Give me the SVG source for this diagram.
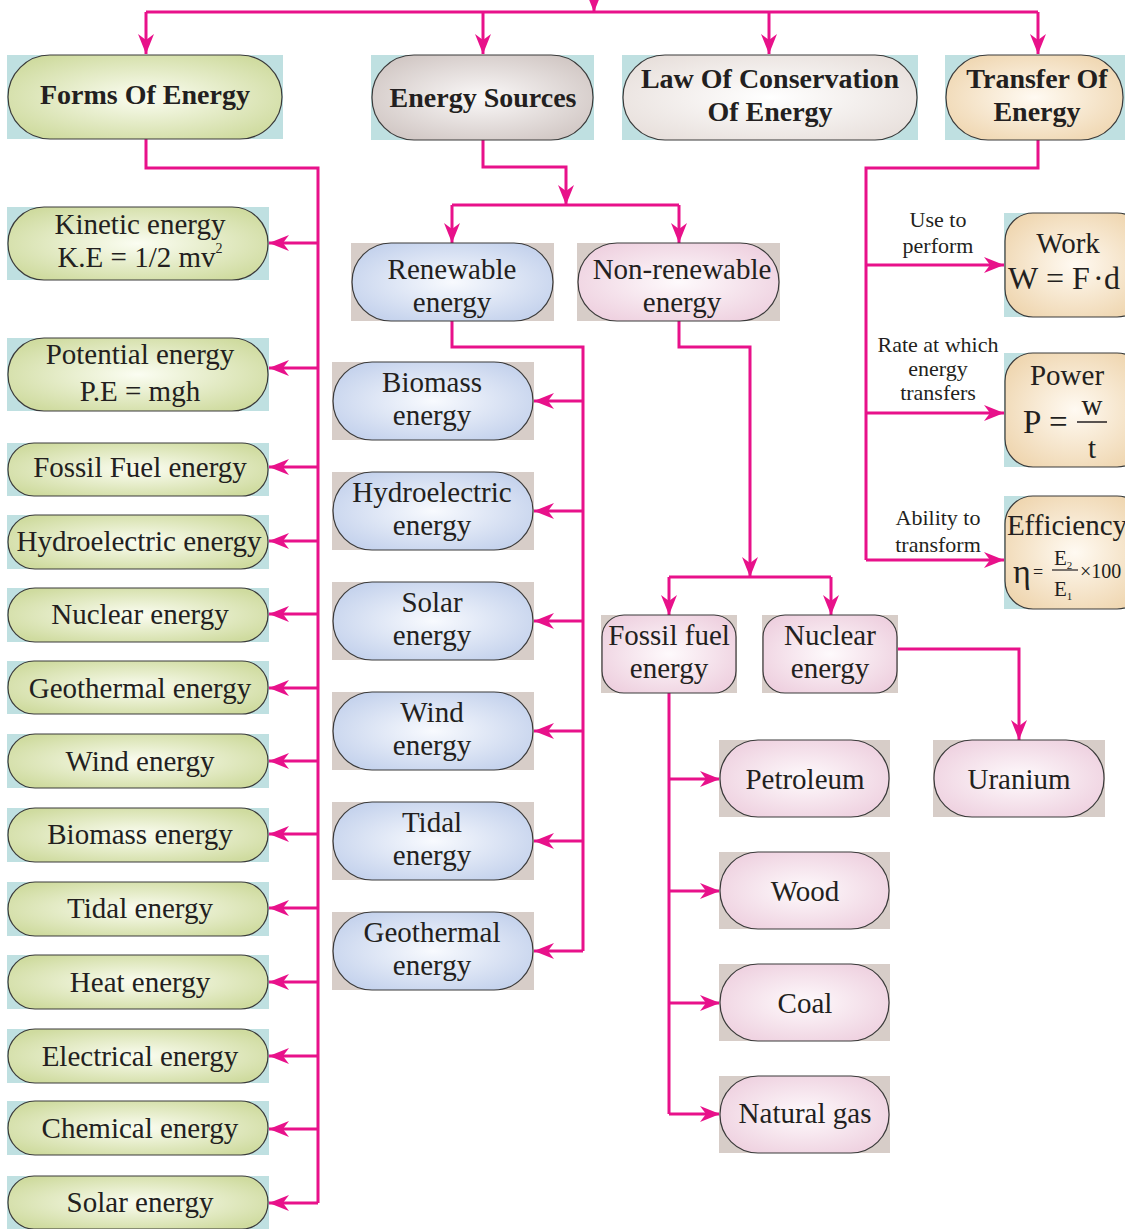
<svg xmlns="http://www.w3.org/2000/svg" width="1125" height="1229" viewBox="0 0 1125 1229">
<defs>
<radialGradient id="gGreen" cx="50%" cy="50%" r="60%"><stop offset="0" stop-color="#fbfdf2"/><stop offset="1" stop-color="#cfdb9f"/></radialGradient>
<radialGradient id="gGrey" cx="50%" cy="50%" r="60%"><stop offset="0" stop-color="#faf8f8"/><stop offset="1" stop-color="#d1c7c4"/></radialGradient>
<radialGradient id="gLaw" cx="50%" cy="50%" r="60%"><stop offset="0" stop-color="#ffffff"/><stop offset="1" stop-color="#e8e0dc"/></radialGradient>
<radialGradient id="gPeach" cx="50%" cy="50%" r="60%"><stop offset="0" stop-color="#fffaf2"/><stop offset="1" stop-color="#efd6b0"/></radialGradient>
<radialGradient id="gBlue" cx="50%" cy="50%" r="60%"><stop offset="0" stop-color="#f8fafe"/><stop offset="1" stop-color="#c3d1ec"/></radialGradient>
<radialGradient id="gPink" cx="50%" cy="50%" r="60%"><stop offset="0" stop-color="#fefafc"/><stop offset="1" stop-color="#eed0df"/></radialGradient>
<marker id="ah" viewBox="0 0 20 16" refX="20" refY="8" markerWidth="20" markerHeight="16" markerUnits="userSpaceOnUse" orient="auto">
<path d="M0,0 L20,8 L0,16 L6,8 Z" fill="#e8118a"/>
</marker>
<style>
.bgb{fill:#bfe0e1}
.bgg{fill:#d7cdc8}
.pill{stroke:#3a3a3a;stroke-width:1.2}
.t{font-family:"Liberation Serif","Times New Roman",serif;font-size:29px;fill:#231f20;text-anchor:middle}
.h{font-family:"Liberation Serif","Times New Roman",serif;font-size:28px;font-weight:bold;fill:#231f20;text-anchor:middle}
.s{font-family:"Liberation Serif","Times New Roman",serif;font-size:22px;fill:#231f20;text-anchor:middle}
.m{font-family:"Liberation Serif","Times New Roman",serif;fill:#231f20;text-anchor:start}
.c{fill:none;stroke:#e8118a;stroke-width:3}
.a{fill:none;stroke:#e8118a;stroke-width:3;marker-end:url(#ah)}
</style>
</defs>
<rect width="1125" height="1229" fill="#ffffff"/>

<g id="connectors">
<path class="a" d="M594,-8 V12"/>
<path class="c" d="M146,12 H1038"/>
<path class="a" d="M146,12 V54"/>
<path class="a" d="M483,12 V54"/>
<path class="a" d="M769,12 V54"/>
<path class="a" d="M1038,12 V54"/>
<path class="c" d="M146,139 V168 H318 V1203"/>
<path class="a" d="M318,243 H269"/>
<path class="a" d="M318,368 H269"/>
<path class="a" d="M318,467 H269"/>
<path class="a" d="M318,541 H269"/>
<path class="a" d="M318,614 H269"/>
<path class="a" d="M318,688 H269"/>
<path class="a" d="M318,761 H269"/>
<path class="a" d="M318,834 H269"/>
<path class="a" d="M318,908 H269"/>
<path class="a" d="M318,982 H269"/>
<path class="a" d="M318,1056 H269"/>
<path class="a" d="M318,1129 H269"/>
<path class="a" d="M318,1203 H269"/>
<path class="a" d="M483,140 V167 H566 V205"/>
<path class="c" d="M452,205 H679"/>
<path class="a" d="M452,205 V243"/>
<path class="a" d="M679,205 V243"/>
<path class="c" d="M452,321 V347 H583 V951"/>
<path class="a" d="M583,401 H534"/>
<path class="a" d="M583,511 H534"/>
<path class="a" d="M583,621 H534"/>
<path class="a" d="M583,731 H534"/>
<path class="a" d="M583,841 H534"/>
<path class="a" d="M583,951 H534"/>
<path class="a" d="M679,321 V347 H750 V577"/>
<path class="c" d="M669,577 H831"/>
<path class="a" d="M669,577 V615"/>
<path class="a" d="M831,577 V615"/>
<path class="a" d="M897,649 H1019 V740"/>
<path class="c" d="M669,693 V1114"/>
<path class="a" d="M669,779 H720"/>
<path class="a" d="M669,891 H720"/>
<path class="a" d="M669,1003 H720"/>
<path class="a" d="M669,1114 H720"/>
<path class="c" d="M1038,140 V168 H866 V560"/>
<path class="a" d="M866,265 H1004"/>
<path class="a" d="M866,413 H1004"/>
<path class="a" d="M866,560 H1004"/>
</g>

<g id="n-forms"><rect class="bgb" x="7" y="55" width="276" height="84"/><rect class="pill" x="8" y="55" width="274" height="84" rx="42" fill="url(#gGreen)"/><text class="h" x="145" y="104">Forms Of Energy</text></g>
<g id="n-sources"><rect class="bgb" x="371" y="55" width="223" height="85"/><rect class="pill" x="372" y="55" width="221" height="85" rx="42" fill="url(#gGrey)"/><text class="h" x="483" y="107">Energy Sources</text></g>
<g id="n-law"><rect class="bgb" x="622" y="55" width="296" height="85"/><rect class="pill" x="623" y="55" width="294" height="85" rx="42" fill="url(#gLaw)"/><text class="h" x="770" y="88">Law Of Conservation</text><text class="h" x="770" y="121">Of Energy</text></g>
<g id="n-transfer"><rect class="bgb" x="945" y="55" width="180" height="85"/><rect class="pill" x="946" y="55" width="177" height="85" rx="42" fill="url(#gPeach)"/><text class="h" x="1037" y="88">Transfer Of</text><text class="h" x="1037" y="121">Energy</text></g>

<g id="n-kinetic"><rect class="bgb" x="7" y="207" width="262" height="73"/><rect class="pill" x="8" y="207" width="260" height="73" rx="36" fill="url(#gGreen)"/><text class="t" x="140" y="234">Kinetic energy</text><text class="t" x="140" y="267" font-size="30">K.E = 1/2 mv<tspan font-size="14" dy="-14">2</tspan></text></g>
<g id="n-potential"><rect class="bgb" x="7" y="338" width="262" height="73"/><rect class="pill" x="8" y="338" width="260" height="73" rx="36" fill="url(#gGreen)"/><text class="t" x="140" y="364">Potential energy</text><text class="t" x="140" y="401" font-size="36">P.E = mgh</text></g>
<g id="n-fossil"><rect class="bgb" x="7" y="443" width="262" height="53"/><rect class="pill" x="8" y="443" width="260" height="53" rx="26" fill="url(#gGreen)"/><text class="t" x="140" y="477">Fossil Fuel energy</text></g>
<g id="n-hydro"><rect class="bgb" x="7" y="515" width="262" height="54"/><rect class="pill" x="8" y="515" width="260" height="54" rx="27" fill="url(#gGreen)"/><text class="t" x="139" y="551">Hydroelectric energy</text></g>
<g id="n-nuclear"><rect class="bgb" x="7" y="588" width="262" height="54"/><rect class="pill" x="8" y="588" width="260" height="54" rx="27" fill="url(#gGreen)"/><text class="t" x="140" y="624">Nuclear energy</text></g>
<g id="n-geo"><rect class="bgb" x="7" y="661" width="262" height="53"/><rect class="pill" x="8" y="661" width="260" height="53" rx="26" fill="url(#gGreen)"/><text class="t" x="140" y="698">Geothermal energy</text></g>
<g id="n-wind"><rect class="bgb" x="7" y="734" width="262" height="54"/><rect class="pill" x="8" y="734" width="260" height="54" rx="27" fill="url(#gGreen)"/><text class="t" x="140" y="771">Wind energy</text></g>
<g id="n-biomass"><rect class="bgb" x="7" y="808" width="262" height="54"/><rect class="pill" x="8" y="808" width="260" height="54" rx="27" fill="url(#gGreen)"/><text class="t" x="140" y="844">Biomass energy</text></g>
<g id="n-tidal"><rect class="bgb" x="7" y="882" width="262" height="54"/><rect class="pill" x="8" y="882" width="260" height="54" rx="27" fill="url(#gGreen)"/><text class="t" x="140" y="918">Tidal energy</text></g>
<g id="n-heat"><rect class="bgb" x="7" y="955" width="262" height="54"/><rect class="pill" x="8" y="955" width="260" height="54" rx="27" fill="url(#gGreen)"/><text class="t" x="140" y="992">Heat energy</text></g>
<g id="n-electrical"><rect class="bgb" x="7" y="1029" width="262" height="54"/><rect class="pill" x="8" y="1029" width="260" height="54" rx="27" fill="url(#gGreen)"/><text class="t" x="140" y="1066">Electrical energy</text></g>
<g id="n-chemical"><rect class="bgb" x="7" y="1101" width="262" height="54"/><rect class="pill" x="8" y="1101" width="260" height="54" rx="27" fill="url(#gGreen)"/><text class="t" x="140" y="1138">Chemical energy</text></g>
<g id="n-solar"><rect class="bgb" x="7" y="1176" width="262" height="53"/><rect class="pill" x="8" y="1176" width="260" height="53" rx="26" fill="url(#gGreen)"/><text class="t" x="140" y="1212">Solar energy</text></g>

<g id="n-renewable"><rect class="bgg" x="351" y="243" width="203" height="78"/><rect class="pill" x="352" y="243" width="201" height="78" rx="39" fill="url(#gBlue)"/><text class="t" x="452" y="279">Renewable</text><text class="t" x="452" y="312">energy</text></g>
<g id="n-nonrenewable"><rect class="bgg" x="577" y="243" width="203" height="78"/><rect class="pill" x="578" y="243" width="201" height="78" rx="39" fill="url(#gPink)"/><text class="t" x="682" y="279">Non-renewable</text><text class="t" x="682" y="312">energy</text></g>

<g id="n-r-biomass"><rect class="bgg" x="332" y="362" width="202" height="78"/><rect class="pill" x="333" y="362" width="200" height="78" rx="39" fill="url(#gBlue)"/><text class="t" x="432" y="392">Biomass</text><text class="t" x="432" y="425">energy</text></g>
<g id="n-r-hydro"><rect class="bgg" x="332" y="472" width="202" height="78"/><rect class="pill" x="333" y="472" width="200" height="78" rx="39" fill="url(#gBlue)"/><text class="t" x="432" y="502">Hydroelectric</text><text class="t" x="432" y="535">energy</text></g>
<g id="n-r-solar"><rect class="bgg" x="332" y="582" width="202" height="78"/><rect class="pill" x="333" y="582" width="200" height="78" rx="39" fill="url(#gBlue)"/><text class="t" x="432" y="612">Solar</text><text class="t" x="432" y="645">energy</text></g>
<g id="n-r-wind"><rect class="bgg" x="332" y="692" width="202" height="78"/><rect class="pill" x="333" y="692" width="200" height="78" rx="39" fill="url(#gBlue)"/><text class="t" x="432" y="722">Wind</text><text class="t" x="432" y="755">energy</text></g>
<g id="n-r-tidal"><rect class="bgg" x="332" y="802" width="202" height="78"/><rect class="pill" x="333" y="802" width="200" height="78" rx="39" fill="url(#gBlue)"/><text class="t" x="432" y="832">Tidal</text><text class="t" x="432" y="865">energy</text></g>
<g id="n-r-geo"><rect class="bgg" x="332" y="912" width="202" height="78"/><rect class="pill" x="333" y="912" width="200" height="78" rx="39" fill="url(#gBlue)"/><text class="t" x="432" y="942">Geothermal</text><text class="t" x="432" y="975">energy</text></g>

<g id="n-nr-fossil"><rect class="bgg" x="601" y="615" width="136" height="78"/><rect class="pill" x="602" y="615" width="134" height="78" rx="22" fill="url(#gPink)"/><text class="t" x="669" y="645">Fossil fuel</text><text class="t" x="669" y="678">energy</text></g>
<g id="n-nr-nuclear"><rect class="bgg" x="762" y="615" width="136" height="78"/><rect class="pill" x="763" y="615" width="134" height="78" rx="22" fill="url(#gPink)"/><text class="t" x="830" y="645">Nuclear</text><text class="t" x="830" y="678">energy</text></g>

<g id="n-petroleum"><rect class="bgg" x="719" y="740" width="171" height="77"/><rect class="pill" x="720" y="740" width="169" height="77" rx="38" fill="url(#gPink)"/><text class="t" x="805" y="789">Petroleum</text></g>
<g id="n-wood"><rect class="bgg" x="719" y="852" width="171" height="77"/><rect class="pill" x="720" y="852" width="169" height="77" rx="38" fill="url(#gPink)"/><text class="t" x="805" y="901">Wood</text></g>
<g id="n-coal"><rect class="bgg" x="719" y="964" width="171" height="77"/><rect class="pill" x="720" y="964" width="169" height="77" rx="38" fill="url(#gPink)"/><text class="t" x="805" y="1013">Coal</text></g>
<g id="n-gas"><rect class="bgg" x="719" y="1076" width="171" height="77"/><rect class="pill" x="720" y="1076" width="169" height="77" rx="38" fill="url(#gPink)"/><text class="t" x="805" y="1123">Natural gas</text></g>
<g id="n-uranium"><rect class="bgg" x="933" y="740" width="172" height="77"/><rect class="pill" x="934" y="740" width="170" height="77" rx="38" fill="url(#gPink)"/><text class="t" x="1019" y="789">Uranium</text></g>

<g id="lbl-work"><text class="s" x="938" y="227">Use to</text><text class="s" x="938" y="253">perform</text></g>
<g id="lbl-power"><text class="s" x="938" y="352">Rate at which</text><text class="s" x="938" y="376">energy</text><text class="s" x="938" y="400">transfers</text></g>
<g id="lbl-eff"><text class="s" x="938" y="525">Ability to</text><text class="s" x="938" y="552">transform</text></g>

<g id="n-work"><rect class="bgb" x="1004" y="213" width="121" height="104"/><rect class="pill" x="1005" y="213" width="140" height="104" rx="28" fill="url(#gPeach)"/><text class="t" x="1068" y="253">Work</text><text class="m" y="289" font-size="32"><tspan x="1008">W</tspan><tspan x="1046">=</tspan><tspan x="1072">F</tspan><tspan x="1093">·</tspan><tspan x="1104">d</tspan></text></g>
<g id="n-power"><rect class="bgb" x="1004" y="353" width="121" height="114"/><rect class="pill" x="1005" y="353" width="140" height="114" rx="28" fill="url(#gPeach)"/><text class="t" x="1067" y="385">Power</text><text class="m" y="433" font-size="33"><tspan x="1023">P</tspan><tspan x="1049">=</tspan></text><text class="t" x="1092" y="415" font-size="30">w</text><line x1="1077" y1="422" x2="1107" y2="422" stroke="#231f20" stroke-width="1.5"/><text class="t" x="1092" y="458" font-size="31">t</text></g>
<g id="n-eff"><rect class="bgb" x="1004" y="496" width="121" height="113"/><rect class="pill" x="1005" y="496" width="140" height="113" rx="28" fill="url(#gPeach)"/><text class="t" x="1067" y="535" font-size="27">Efficiency</text><text class="m" x="1013" y="583" font-size="34">η</text><text class="m" x="1033" y="578" font-size="18">=</text><text class="m" x="1054" y="565" font-size="21">E<tspan font-size="11" dy="4">2</tspan></text><line x1="1052" y1="570" x2="1078" y2="570" stroke="#231f20" stroke-width="1.2"/><text class="m" x="1054" y="596" font-size="21">E<tspan font-size="11" dy="4">1</tspan></text><text class="m" x="1080" y="578" font-size="20">×100</text></g>
</svg>
